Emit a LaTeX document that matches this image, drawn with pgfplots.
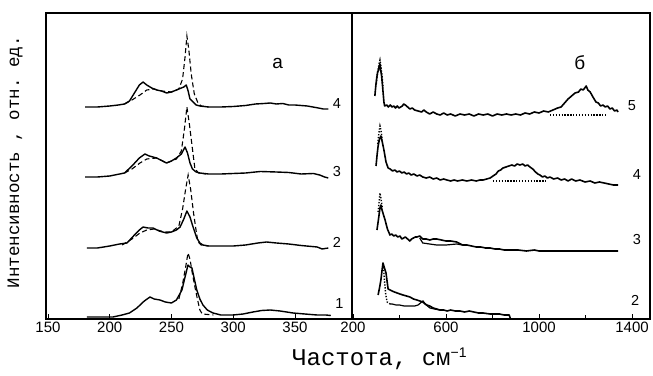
\documentclass[border=0pt]{standalone}
\usepackage{fontspec}
\setmainfont{Liberation Sans}
\setsansfont{Liberation Sans}
\setmonofont{Liberation Mono}
\usepackage{pgfplots}
\pgfplotsset{compat=1.18}
\begin{document}
\begin{tikzpicture}
\useasboundingbox (0,0) rectangle (653pt,375pt);
\tikzset{lab/.style={font=\fontsize{14.5}{14.5}\selectfont\sffamily}}
\pgfplotsset{
  panel/.style={
    scale only axis, height=306pt, ymin=0, ymax=306,
    ytick=\empty, tick pos=left, tick align=inside,
    major tick length=5pt, minor tick length=4pt,
    axis line style={line width=1.2pt},
    every tick/.style={line width=0.9pt, black},
    clip=false,
    /pgf/number format/assume math mode=true,
    /pgf/number format/1000 sep={},
    xticklabel style={font=\fontsize{15}{15}\selectfont\sffamily, inner sep=2.5pt},
  },
  sol/.style={black, line width=1.4pt, line join=round},
  solr/.style={black, line width=1.6pt, line join=round},
  dsh/.style={black, line width=1.1pt, dash pattern=on 5pt off 3pt},
  dot/.style={black, line width=1.4pt, dash pattern=on 1.3pt off 1.6pt},
}
% ---------------- panel a ----------------
\begin{axis}[panel, at={(46pt,56pt)}, anchor=south west, width=306pt,
  xmin=148.4, xmax=396.2, xtick={150,200,250,300,350}]
% curve 4
\addplot[sol] coordinates {(180,212) (190,212) (200,213) (207,214) (212,215) (216,218) (220,226) (224,234) (227,237) (230,234) (234,231) (238,229) (242,228) (246,226) (250,227) (254,229) (258,231) (260,232) (262,234) (263.5,228) (265,220) (267.5,217) (270,214) (273,213) (280,212) (290,212) (300,212.5) (310,213.5) (318,215) (325,215.5) (330,216) (335,215) (340,215.5) (345,214) (350,214) (360,213) (369,211) (373,210) (377,210)};
\addplot[dsh] coordinates {(212,215) (218,219) (224.5,224) (230,229) (236,230) (242,228) (250,227) (256,230) (259,240) (261,262) (262.5,283) (264,270) (266,245) (268.5,225) (271.5,216) (274,213) (280,212)};
% curve 3
\addplot[sol] coordinates {(180,142) (190,142) (200,143) (212,146) (218,153) (224,161) (228.5,165) (232,163) (238,161) (242,158.5) (246,156) (250,158) (254,161) (258,165) (261,172) (263,166) (265,156) (267,150) (270,147) (273,146) (280,145) (290,145) (300,145.5) (310,146) (322,147.5) (335,147) (345,146.5) (355,145) (365,145.5) (370,144) (374,142) (377,141)};
\addplot[dsh] coordinates {(212,146) (218,150) (224.5,156) (230,160) (238,161) (246,156) (254,160) (258,168) (260.5,190) (262.5,212) (264.5,195) (267,170) (269,150) (272,146) (278,145)};
% curve 2
\addplot[sol] coordinates {(181.5,71) (190,71) (200,73) (208,75) (214,76) (220,84) (224,89) (227,92) (231,91) (235,91) (240,88) (246,86) (250,87) (254,89) (257,92) (260,100) (262.5,108) (265,102) (267.5,92) (270.5,81) (273,76) (275.5,74) (280,73) (290,73) (300,73) (310,74) (320,76) (327,77) (335,76) (345,75) (355,73.5) (368,72) (372,70) (377,71)};
\addplot[dsh] coordinates {(210,74) (218,80) (224.5,86) (230,89) (236,90) (244,87) (250,87) (256,93) (259,110) (261.5,130) (263.5,144) (265.5,130) (268,105) (270,88) (271.5,77) (274,74) (280,73)};
% curve 1
\addplot[sol] coordinates {(181.5,2) (190,2) (202.6,2) (210,4) (216,6) (222,11) (228,18) (232.6,22) (236,20) (240.7,19) (245,17) (250,16) (254,19) (258.5,29) (261,42) (263.4,54) (265,52) (266.6,51) (268.5,40) (270.5,29) (273,20) (275.5,14) (279,9) (283.6,6) (290,4) (300,4) (308,5) (316,7) (323,8.5) (330,9) (338,8) (348.5,6) (358,5) (368,4) (375,4) (379,3.5)};
\addplot[dsh] coordinates {(256,20) (259,35) (261.5,52) (263.4,66) (265,60) (267,45) (269,32) (271,20) (273,9) (275,5) (284,4)};
\node[lab] at (axis cs:384,215) {4};
\node[lab] at (axis cs:384,147) {3};
\node[lab] at (axis cs:384,77) {2};
\node[lab] at (axis cs:386,15) {1};
\node[font=\fontsize{19}{19}\selectfont\sffamily] at (axis cs:336,256) {а};
\end{axis}
% ---------------- panel b ----------------
\begin{axis}[panel, at={(352pt,56pt)}, anchor=south west, width=298pt,
  xmin=195.7, xmax=1477.4, ymin=3, ymax=309,
  xtick={200,600,1000,1400}, minor xtick={400,800,1200}]
% curve 5
\addplot[solr] coordinates {(294,226) (298,236) (302,244) (306,250) (310,252) (313,256) (316,258) (319,252) (323,246) (327,236) (330,228) (333,220) (336,216) (345,217) (352,215) (360,217) (368,215) (375,216) (383,214) (390,216) (398,214) (405,215) (412,216) (418,218) (425,217) (435,215) (445,213) (455,214) (465,212) (480,211) (495,210) (505,212) (515,210) (530,208) (545,210) (560,208) (575,207) (590,209) (605,207) (620,208) (640,206) (660,208) (680,207) (700,208) (720,206) (740,208) (760,207) (780,208) (800,206) (820,208) (840,207) (860,208) (880,207) (900,208) (920,207) (940,209) (960,208) (980,210) (1000,209) (1020,211) (1040,210) (1060,212) (1080,214) (1095,215) (1110,219) (1125,223) (1140,226) (1155,229) (1170,230) (1180,233) (1190,232) (1203,236) (1210,232) (1220,230) (1232,225) (1245,220) (1255,219) (1265,216) (1275,217) (1285,215) (1295,216) (1305,213) (1315,214) (1325,211) (1335,212) (1340,210)};
\addplot[dot] coordinates {(300,238) (306,250) (312,258) (316,262) (320,256) (325,246) (330,234)};
\addplot[dot] coordinates {(1047,207) (1292,207)};
% curve 4
\addplot[solr] coordinates {(299,156) (304,168) (308,176) (314,183) (320,186) (326,180) (333,172) (342,160) (351,154) (360,153) (370,151) (380,152) (389,150) (400,151) (410,149) (420,150) (430,148) (440,149) (450,147) (462,148) (475,146) (487,147) (500,145) (515,144) (530,145) (545,143) (560,144) (575,142) (590,143) (604,142) (620,141) (635,142) (650,141) (670,142) (690,141) (710,142) (730,141) (746,142) (760,142) (775,143) (790,144) (802,146) (815,148) (825,151) (835,152) (845,154) (858,155) (870,156) (883,157) (895,156) (906,158) (918,157) (930,158) (940,156) (951,157) (961,155) (973,153) (985,150) (995,148) (1004,147) (1015,145) (1025,146) (1036,144) (1047,145) (1063,143) (1080,144) (1095,142) (1110,143) (1125,141) (1140,143) (1158,141) (1176,142) (1198,140) (1220,141) (1240,139) (1260,140) (1280,139) (1300,138) (1320,137) (1340,137)};
\addplot[dot] coordinates {(306,178) (312,190) (316,196) (320,192) (326,182)};
\addplot[dot] coordinates {(802,141) (1034,141)};
% curve 3
\addplot[solr] coordinates {(303,92) (308,100) (312,107) (316,114) (320,117) (325,112) (330,108) (338,102) (348,93) (359,87) (367,88) (375,86) (384,87) (393,85) (402,86) (410,83) (418,84) (425,85) (435,83) (444,81) (452,83) (460,84) (468,85) (475,85) (487,86) (500,83) (515,83) (530,82) (545,83) (560,83) (580,82) (600,81) (620,81) (646,80) (671,77) (690,77) (710,76) (730,75) (750,75) (770,74) (790,74) (810,73) (830,73) (850,72) (880,72) (910,72) (946,71) (980,72) (1000,71) (1040,71) (1087,71) (1150,71) (1200,71) (1270,71) (1340,71)};
\addplot[black, line width=1.2pt] coordinates {(487,84) (500,79) (530,78) (560,77) (600,77) (646,78) (671,77)};
\addplot[dot] coordinates {(308,110) (313,122) (316,129) (320,124) (326,114)};
% curve 2
\addplot[solr] coordinates {(308,27) (314,34) (320,42) (325,52) (329,59) (334,55) (342,49) (347,40) (351,33) (360,32) (368,31) (378,30) (390,29) (402,28) (415,27) (430,26) (445,25) (460,23) (475,22) (488,21) (500,20) (510,18) (518,17) (530,16) (545,14) (560,13) (574,12) (590,12) (605,11) (620,12) (640,11) (660,11) (680,10) (700,11) (720,10) (740,9) (760,9) (789,8) (810,8) (830,8) (850,7) (872,7) (876,4)};
\addplot[dot] coordinates {(331,55) (336,40) (341,27) (347,20) (360,18)};
\addplot[black, line width=1.2pt] coordinates {(360,18) (368,18) (385,17) (400,17) (420,16) (445,16) (465,16) (480,17) (490,19) (501,21) (508,19) (515,17) (531,14) (550,13) (574,12)};
\node[lab] at (axis cs:1400,216) {5};
\node[lab] at (axis cs:1421,147) {4};
\node[lab] at (axis cs:1421,82) {3};
\node[lab] at (axis cs:1413,22) {2};
\node[font=\fontsize{19}{19}\selectfont\sffamily] at (axis cs:1176,259) {б};
\end{axis}
% axis titles
\node[rotate=90, font=\fontsize{17.5}{17.5}\selectfont\ttfamily] at (15pt,213pt) {Интенсивность , отн. ед.};
\node[anchor=base west, inner sep=0pt] at (292pt,10pt) {\fontsize{24}{24}\selectfont\ttfamily Частота, см\raisebox{8pt}{\fontsize{14}{14}\selectfont\sffamily −1}};
\end{tikzpicture}
\end{document}
